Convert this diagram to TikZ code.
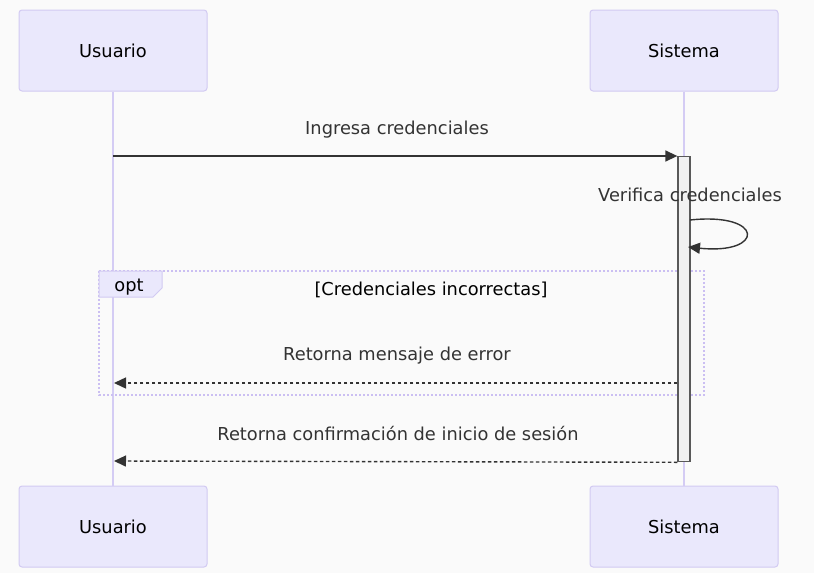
\documentclass[tikz,border=0pt]{standalone}
\usepackage{fontspec}
\setmainfont{DejaVu Sans}
\usetikzlibrary{arrows.meta,positioning}

\definecolor{bgcol}{HTML}{FAFAFA}
\definecolor{actorfill}{HTML}{EAE8FC}
\definecolor{actorline}{HTML}{D2CAF2}
\definecolor{lifecol}{HTML}{D4CCF4}
\definecolor{framecol}{HTML}{CBBFF2}
\definecolor{txtcol}{HTML}{333333}
\definecolor{actvfill}{HTML}{F1F1F1}

\tikzset{
  actor/.style={draw=actorline, fill=actorfill, rounded corners=3pt, line width=1pt,
                minimum width=188pt, minimum height=81pt},
  lifeline/.style={draw=lifecol, line width=2pt},
  msg/.style={draw=txtcol, line width=1.4pt, -{Triangle[length=12pt,width=11pt]}},
  reply/.style={msg, dash pattern=on 3.5pt off 2.5pt},
  label/.style={text=txtcol}
}

\begin{document}
\begin{tikzpicture}[x=1pt, y=-1pt, every node/.style={font=\fontsize{17.8}{21}\selectfont}]
    \fill[bgcol] (0,0) rectangle (814,573);
    \useasboundingbox (0,0) rectangle (814,573);

    % participants
    \node[actor] (usr) at (113,50.5) {Usuario};
    \node[actor] (sys) at (684,50.5) {Sistema};
    \node[actor] (usrbot) at (113,526.5) {Usuario};
    \node[actor] (sysbot) at (684,526.5) {Sistema};

    \draw[lifeline] (usr) -- (usrbot);
    \draw[lifeline] (sys) -- (sysbot);

    % opt frame
    \draw[draw=framecol, line width=2.2pt, dash pattern=on 2pt off 2pt] (99,271) rectangle (704,395);
    \draw[draw=actorline, fill=actorfill, line width=1pt] (99,271) -- (162,271) -- (162,288) -- (153,297) -- (99,297) -- cycle;
    \node[text=black] (optlbl) at (129,287) {opt};
    \node[text=black] (cond) at (431,290) {[Credenciales incorrectas]};

    % activation
    \node[draw=gray!70!black, fill=actvfill, line width=1.3pt, inner sep=0pt,
          minimum width=12pt, minimum height=305pt, anchor=north] (act) at (684,156) {};

    % coordinates on the lifelines
    \coordinate (login) at (113,156);
    \coordinate (loopin) at (690,220);
    \coordinate (loopout) at (688,247);
    \coordinate (err) at (114,383);
    \coordinate (ok) at (114,461);

    % messages
    \node[label] (m1) at (397,130) {Ingresa credenciales};
    \draw[msg] (login) -- (act.north west);

    \node[label] (m2) at (690,195) {Verifica credenciales};
    \draw[msg] (loopin) .. controls (765,212) and (765,255) .. (loopout);

    \node[label] (m3) at (397,356) {Retorna mensaje de error};
    \draw[reply] (act.west |- err) -- (err);

    \node[label] (m4) at (398,434) {Retorna confirmación de inicio de sesión};
    \draw[reply] (act.south west) -- (ok);
\end{tikzpicture}
\end{document}
